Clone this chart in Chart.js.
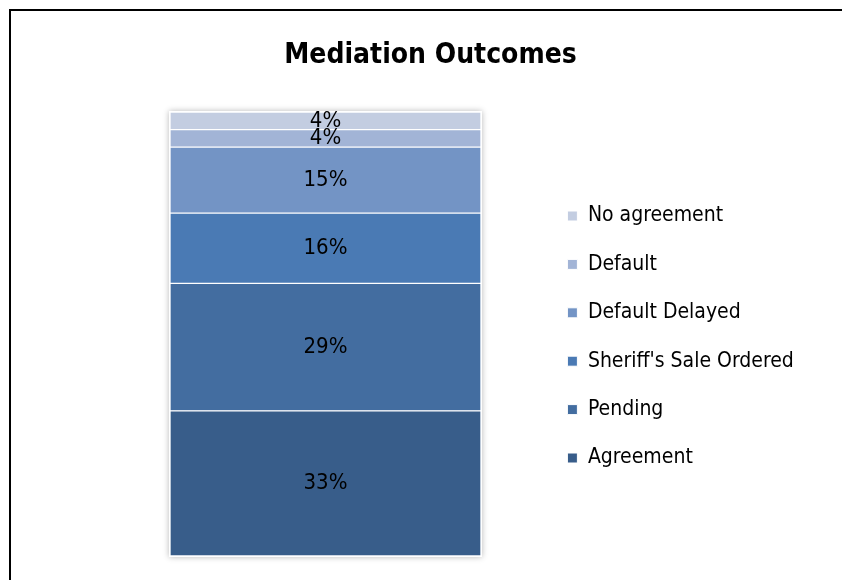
<!DOCTYPE html>
<html>
<head>
<meta charset="utf-8">
<script src="https://cdn.jsdelivr.net/npm/chart.js@4"></script>
<style>
    body { margin: 0; background: #fff; overflow: hidden; }
    #frame {
        position: absolute; left: 9px; top: 9px;
        width: 860px; height: 600px;
        border: 2px solid #000; background: #fff;
    }
    #wrap { position: absolute; left: 0; top: 0; width: 838px; height: 569px; }
</style>
</head>
<body>
<div id="frame"><div id="wrap"><canvas id="outcomeChart"></canvas></div></div>
<script>
// Mediation outcomes, stacked bottom to top
const outcomeLabels = ['Agreement', 'Pending', "Sheriff's Sale Ordered", 'Default Delayed', 'Default', 'No agreement'];
const outcomeValues = [33, 29, 16, 15, 4, 4];
const outcomeColors = ['#385d8a', '#436da0', '#4a7ab4', '#7394c5', '#a2b4d6', '#c3cde1'];
const categories = ['Outcomes'];

const narrowFont = "'Liberation Sans Narrow', 'DejaVu Sans Condensed', sans-serif";
const totalPercent = outcomeValues.reduce((sum, v) => sum + v, 0);

// soft shadow behind the whole stack
const stackShadow = {
    id: 'stackShadow',
    beforeDatasetsDraw(chart) {
        const first = chart.getDatasetMeta(0).data[0];
        const last = chart.getDatasetMeta(chart.data.datasets.length - 1).data[0];
        if (!first || !last) return;
        const ctx = chart.ctx;
        const half = first.width / 2;
        ctx.save();
        ctx.shadowColor = 'rgba(0, 0, 0, 0.28)';
        ctx.shadowBlur = 6;
        ctx.fillStyle = '#ffffff';
        ctx.fillRect(first.x - half - 1, last.y - 1, first.width + 2, first.base - last.y + 2);
        ctx.restore();
    }
};

// percentage text in the middle of each segment
const segmentLabels = {
    id: 'segmentLabels',
    afterDatasetsDraw(chart) {
        const ctx = chart.ctx;
        ctx.save();
        ctx.font = '22px ' + narrowFont;
        ctx.fillStyle = '#000';
        ctx.textAlign = 'center';
        ctx.textBaseline = 'middle';
        chart.data.datasets.forEach((ds, i) => {
            chart.getDatasetMeta(i).data.forEach((bar, j) => {
                ctx.fillText(ds.data[j] + '%', bar.x, (bar.y + bar.base) / 2);
            });
        });
        ctx.restore();
    }
};

// narrow legend box so the title stays centred, and draw it further right without clipping
const legendShift = {
    id: 'legendShift',
    beforeInit(chart) {
        const legend = chart.legend;
        const fit = legend.fit;
        legend.fit = function () {
            fit.call(this);
            this.width = 210;
        };
        legend.draw = function () {
            if (!this.options.display) return;
            const ctx = this.ctx;
            ctx.save();
            ctx.translate(59, 3);
            this._draw();
            ctx.restore();
        };
    }
};

new Chart(document.getElementById('outcomeChart').getContext('2d'), {
    type: 'bar',
    data: {
        labels: categories,
        datasets: outcomeLabels.map((label, i) => ({
            label: label,
            data: [outcomeValues[i]],
            backgroundColor: outcomeColors[i],
            borderColor: '#ffffff',
            borderWidth: 1,
            borderSkipped: false,
            barPercentage: 1,
            categoryPercentage: 1
        }))
    },
    options: {
        responsive: true,
        maintainAspectRatio: false,
        animation: false,
        layout: { padding: { left: 159, right: 158, top: 0, bottom: 24 } },
        scales: {
            x: { stacked: true, display: false },
            y: { stacked: true, display: false, min: 0, max: totalPercent }
        },
        plugins: {
            title: {
                display: true,
                text: 'Mediation Outcomes',
                color: '#000',
                font: { family: narrowFont, size: 28, weight: 'bold', lineHeight: 1.2 },
                padding: { top: 28.2, bottom: 39.2 }
            },
            legend: {
                position: 'right',
                fullSize: false,
                reverse: true,
                labels: {
                    color: '#000',
                    boxWidth: 10,
                    boxHeight: 10,
                    padding: 27.4,
                    font: { family: narrowFont, size: 21 }
                }
            },
            tooltip: { enabled: false }
        }
    },
    plugins: [stackShadow, segmentLabels, legendShift]
});
</script>
</body>
</html>
